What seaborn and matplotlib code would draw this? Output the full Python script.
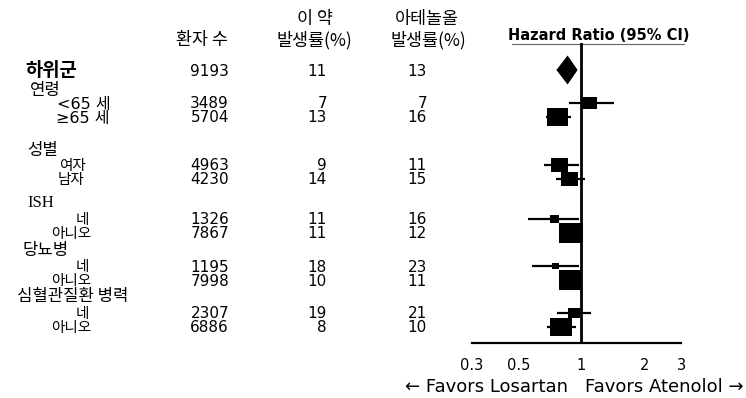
import numpy as np
import pandas as pd
import matplotlib
matplotlib.use("Agg")
import matplotlib.pyplot as plt
from matplotlib.path import Path
import seaborn as sns

# ---- data -------------------------------------------------------------
overall_label = "하위군"
overall_n = 9193
overall_rate_drug = 11
overall_rate_aten = 13
overall_hr = 0.86
overall_lo = 0.76
overall_hi = 0.96

groups = ["연령", "성별", "ISH", "당뇨병", "심혈관질환 병력"]
subgroups = ["<65 세", "≥65 세", "여자", "남자", "네", "아니오", "네", "아니오", "네", "아니오"]
patients = [3489, 5704, 4963, 4230, 1326, 7867, 1195, 7998, 2307, 6886]
rate_drug = [7, 13, 9, 14, 11, 11, 18, 10, 19, 8]
rate_aten = [7, 16, 11, 15, 16, 12, 23, 11, 21, 10]
hr = [1.10, 0.77, 0.79, 0.88, 0.745, 0.89, 0.753, 0.89, 0.92, 0.80]
hr_lo = [0.87, 0.68, 0.66, 0.76, 0.556, 0.80, 0.58, 0.81, 0.765, 0.685]
hr_hi = [1.43, 0.89, 0.975, 1.04, 0.975, 0.99, 0.975, 1.01, 1.11, 0.945]
weight = [15, 21, 17, 17, 9, 24, 7, 23, 12, 22]

x_ticks = [0.3, 0.5, 1, 1.5, 2, 3]
x_tick_labels = ["0.3", "0.5", "1", "", "2", "3"]

# ---- layout (pixel rows, measured from the top) -----------------------
W, H = 746, 398
overall_y = 70
group_y = [90, 151, 203, 250, 297]
group_x = [30, 27, 27, 23, 17]
sub_y = [103, 117, 165, 179, 219, 233, 266, 280, 313, 327]
sub_x = [84, 83, 72, 71, 82, 71, 82, 71, 82, 71]
col_n_right, col_drug_right, col_aten_right = 229, 327, 427

sns.set_style("white")
plt.rcParams["font.family"] = ["Noto Sans CJK KR", "DejaVu Sans"]
plt.rcParams["text.color"] = "black"
plt.rcParams["xtick.color"] = "black"
plt.rcParams["axes.labelcolor"] = "black"

fig = plt.figure(figsize=(W / 100, H / 100), dpi=100)

# text layer in pixel coordinates
tx = fig.add_axes([0, 0, 1, 1])
tx.set_xlim(0, W)
tx.set_ylim(H, 0)
tx.axis("off")

kor = ["Noto Sans CJK KR", "DejaVu Sans"]
num = ["DejaVu Sans"]
fs_num = 11

# column headers
tx.text(202, 40, "환자 수", ha="center", va="center", fontsize=12.5, family=kor)
tx.text(315, 19, "이 약", ha="center", va="center", fontsize=12.5, family=kor)
tx.text(314, 40, "발생률(%)", ha="center", va="center", fontsize=12.5, family=kor)
tx.text(427, 19, "아테놀올", ha="center", va="center", fontsize=12.5, family=kor)
tx.text(428, 40, "발생률(%)", ha="center", va="center", fontsize=12.5, family=kor)
tx.text(599, 36, "Hazard Ratio (95% CI)", ha="center", va="center",
        fontsize=10.5, fontweight="bold", family=num)
tx.plot([512, 684], [44, 44], color="#666666", lw=0.8)

# overall row
tx.text(25, overall_y, overall_label, ha="left", va="center", fontsize=13.5,
        fontweight="bold", family=kor)
tx.text(col_n_right, overall_y + 1, f"{overall_n}", ha="right", va="center", fontsize=fs_num, family=num)
tx.text(col_drug_right, overall_y + 1, f"{overall_rate_drug}", ha="right", va="center", fontsize=fs_num, family=num)
tx.text(col_aten_right, overall_y + 1, f"{overall_rate_aten}", ha="right", va="center", fontsize=fs_num, family=num)

# group headings
for g, gx, gy in zip(groups, group_x, group_y):
    fam = ["Liberation Serif"] if g == "ISH" else kor
    tx.text(gx, gy, g, ha="left", va="center", fontsize=12, family=fam)

# subgroup rows
for i, (lab, lx, ly) in enumerate(zip(subgroups, sub_x, sub_y)):
    is_age = "65" in lab
    tx.text(lx, ly + 1, lab, ha="center", va="center",
            fontsize=11.5 if is_age else 10.5,
            family=["DejaVu Sans", "Noto Sans CJK KR"] if is_age else kor)
    tx.text(col_n_right, ly + 1, f"{patients[i]}", ha="right", va="center", fontsize=fs_num, family=num)
    tx.text(col_drug_right, ly + 1, f"{rate_drug[i]}", ha="right", va="center", fontsize=fs_num, family=num)
    tx.text(col_aten_right, ly + 1, f"{rate_aten[i]}", ha="right", va="center", fontsize=fs_num, family=num)

# favours labels
tx.text(568, 387, "← Favors Losartan", ha="right", va="center", fontsize=13, family=num)
tx.text(585, 387, "Favors Atenolol →", ha="left", va="center", fontsize=13, family=num)

# ---- forest panel -----------------------------------------------------
ax_left, ax_right, ax_top, ax_bottom = 472, 681, 43, 343
ax = fig.add_axes([ax_left / W, (H - ax_bottom) / H,
                   (ax_right - ax_left) / W, (ax_bottom - ax_top) / H])
ax.set_xscale("log")
ax.set_xlim(x_ticks[0], x_ticks[-1])
ax.set_ylim(ax_bottom, ax_top)
ax.patch.set_alpha(0)

df = pd.DataFrame({"hr": hr, "lo": hr_lo, "hi": hr_hi, "y": sub_y, "w": weight})

ax.axvline(1, color="black", lw=2, zorder=1)
ax.hlines(df["y"], df["lo"], df["hi"], color="black", lw=1.6, zorder=2)

box = Path([(-0.6, -0.5), (0.6, -0.5), (0.6, 0.5), (-0.6, 0.5), (-0.6, -0.5)],
           [Path.MOVETO, Path.LINETO, Path.LINETO, Path.LINETO, Path.CLOSEPOLY])
sns.scatterplot(data=df, x="hr", y="y", marker=box, color="black",
                linewidth=0, legend=False, ax=ax, zorder=3)
ax.collections[-1].set_sizes((df["w"].to_numpy() * 0.72) ** 2)

ax.fill([overall_lo, overall_hr, overall_hi, overall_hr],
        [overall_y, overall_y - 14.5, overall_y, overall_y + 14.5],
        color="black", lw=0, zorder=3)

for s in ["top", "right", "left"]:
    ax.spines[s].set_visible(False)
ax.spines["bottom"].set_linewidth(1.6)
ax.spines["bottom"].set_color("black")
ax.set_xticks(x_ticks)
ax.set_xticklabels(x_tick_labels, fontsize=10.5, family=num)
ax.xaxis.set_minor_locator(matplotlib.ticker.NullLocator())
ax.tick_params(axis="x", direction="out", length=5, width=1.6, color="black", pad=6)
ax.set_yticks([])
ax.set_xlabel("")
ax.set_ylabel("")

fig.savefig("out.png", dpi=100)
